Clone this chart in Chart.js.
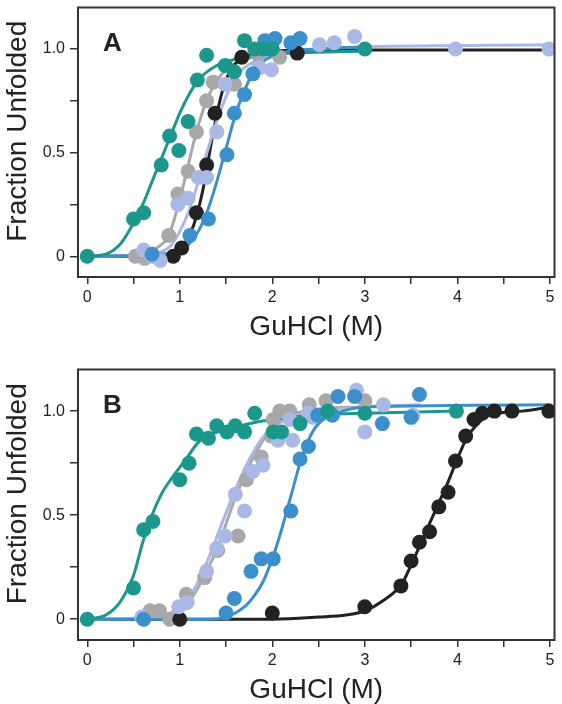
<!DOCTYPE html>
<html>
<head>
<meta charset="utf-8">
<script src="https://cdn.jsdelivr.net/npm/chart.js@4.4.1/dist/chart.umd.min.js"></script>
<style>
  html, body { margin: 0; padding: 0; background: #fff; }
  #wrap { position: relative; width: 562px; height: 704px; }
  canvas { position: absolute; left: 0; }
</style>
</head>
<body>
<div id="wrap">
  <canvas id="chartA" width="562" height="352" style="top:0"></canvas>
  <canvas id="chartB" width="562" height="342" style="top:362px"></canvas>
</div>
<script>
// axis ticks
const xTickVals = [0, 0.5, 1, 1.5, 2, 2.5, 3, 3.5, 4, 4.5, 5];
const xTickLabels = ['0', '', '1', '', '2', '', '3', '', '4', '', '5'];
const yTickVals = [0, 0.25, 0.5, 0.75, 1.0];
const yTickLabels = ['0', '', '0.5', '', '1.0'];
const xTitle = 'GuHCl (M)';
const yTitle = 'Fraction Unfolded';

// panel A: measured points [GuHCl, fraction]
const aGray = [[0.52, 0], [0.62, -0.01], [0.72, 0], [0.88, 0.10], [0.98, 0.30], [1.09, 0.41], [1.18, 0.60], [1.29, 0.75], [1.36, 0.84], [1.59, 0.83], [1.85, 0.97], [2.08, 0.96]];
const aBlack = [[0.93, 0], [1.02, 0.04], [1.18, 0.21], [1.29, 0.44], [1.38, 0.69], [1.67, 0.96], [2.27, 0.98]];
const aLav = [[0.61, 0.03], [0.70, 0], [0.79, -0.02], [0.98, 0.25], [1.09, 0.28], [1.20, 0.38], [1.29, 0.38], [1.40, 0.60], [1.49, 0.83], [1.86, 0.91], [1.99, 0.90], [2.51, 1.02], [2.67, 1.03], [2.89, 1.06], [3.98, 1.0], [4.99, 1.0]];
const aBlue = [[0.70, 0.01], [1.11, 0.10], [1.31, 0.18], [1.51, 0.49], [1.59, 0.69], [1.70, 0.78], [1.79, 0.88], [1.92, 1.04], [2.03, 1.05], [2.20, 1.03], [2.30, 1.05]];
const aTeal = [[0, 0], [0.50, 0.18], [0.61, 0.21], [0.80, 0.44], [0.89, 0.58], [0.99, 0.51], [1.09, 0.65], [1.19, 0.85], [1.29, 0.97], [1.49, 0.92], [1.59, 0.89], [1.70, 1.04], [1.81, 1.0], [1.90, 1.0], [2.00, 1.0], [3.0, 1.0]];

// panel A: fitted curves
const aGrayFit = [[0, 0], [0.6, 0.01], [0.75, 0.04], [0.88, 0.10], [0.98, 0.24], [1.07, 0.40], [1.18, 0.60], [1.29, 0.75], [1.42, 0.86], [1.6, 0.93], [1.8, 0.96], [2.2, 0.98], [3.0, 0.99]];
const aBlackFit = [[0, 0], [0.8, 0], [0.95, 0.02], [1.05, 0.06], [1.15, 0.15], [1.25, 0.32], [1.35, 0.57], [1.45, 0.78], [1.55, 0.90], [1.7, 0.96], [1.9, 0.985], [2.5, 0.995], [5.0, 0.995]];
const aLavFit = [[0, 0], [0.7, 0.01], [0.9, 0.05], [1.0, 0.12], [1.1, 0.22], [1.2, 0.36], [1.3, 0.51], [1.4, 0.65], [1.5, 0.77], [1.6, 0.86], [1.7, 0.91], [2.0, 0.97], [2.5, 1.0], [3.0, 1.01], [5.0, 1.02]];
const aBlueFit = [[0, 0], [0.8, 0.01], [1.0, 0.03], [1.1, 0.06], [1.2, 0.12], [1.3, 0.22], [1.4, 0.36], [1.5, 0.52], [1.6, 0.68], [1.7, 0.80], [1.8, 0.89], [1.9, 0.94], [2.1, 0.98], [2.5, 1.0], [3.0, 1.01]];
const aTealFit = [[0, 0], [0.2, 0.01], [0.36, 0.06], [0.5, 0.16], [0.61, 0.26], [0.7, 0.36], [0.8, 0.47], [0.9, 0.58], [1.0, 0.69], [1.1, 0.78], [1.2, 0.85], [1.4, 0.92], [1.6, 0.95], [1.86, 0.97], [2.2, 0.98], [3.0, 0.99]];

// panel B: measured points
const bGray = [[0.68, 0.04], [0.78, 0.04], [0.89, 0], [1.07, 0.12], [1.27, 0.20], [1.41, 0.33], [1.63, 0.40], [1.72, 0.67], [1.88, 0.78], [1.99, 0.88], [2.01, 0.96], [2.08, 1.0], [2.19, 1.0], [2.40, 1.03], [2.58, 1.05], [3.0, 1.05]];
const bBlack = [[1.0, 0], [2.0, 0.03], [3.0, 0.06], [3.39, 0.16], [3.50, 0.28], [3.59, 0.37], [3.70, 0.42], [3.80, 0.54], [3.90, 0.61], [3.98, 0.76], [4.09, 0.88], [4.18, 0.96], [4.27, 0.99], [4.40, 1.0], [4.59, 1.0], [4.99, 1.0]];
const bLav = [[0.59, 0.01], [0.99, 0.06], [1.08, 0.08], [1.29, 0.23], [1.40, 0.34], [1.49, 0.40], [1.60, 0.60], [1.70, 0.52], [1.79, 0.71], [1.90, 0.74], [2.06, 0.86], [2.19, 0.96], [2.22, 0.86], [2.39, 0.99], [2.44, 0.97], [2.91, 1.10], [3.0, 0.90], [3.20, 1.03], [3.52, 0.98]];
const bBlue = [[0.61, 0], [1.50, 0.03], [1.59, 0.10], [1.77, 0.23], [1.88, 0.29], [2.01, 0.29], [2.20, 0.52], [2.30, 0.77], [2.39, 0.83], [2.49, 0.98], [2.65, 0.98], [2.71, 1.07], [2.89, 1.07], [3.19, 0.94], [3.50, 0.97], [3.59, 1.08]];
const bTeal = [[0, 0], [0.50, 0.15], [0.61, 0.43], [0.71, 0.47], [1.0, 0.67], [1.10, 0.75], [1.18, 0.89], [1.31, 0.87], [1.40, 0.93], [1.51, 0.90], [1.60, 0.93], [1.70, 0.90], [1.81, 0.99], [2.01, 0.90], [2.10, 0.90], [2.30, 0.94], [2.60, 1.0], [3.0, 0.99], [3.99, 1.0]];

// panel B: fitted curves
const bGrayFit = [[0, 0], [0.6, 0], [0.78, 0.01], [1.0, 0.05], [1.14, 0.11], [1.29, 0.23], [1.43, 0.37], [1.58, 0.56], [1.72, 0.71], [1.86, 0.83], [2.0, 0.92], [2.2, 0.98], [2.5, 1.01], [3.0, 1.02]];
const bBlackFit = [[0, 0], [2.0, 0], [2.5, 0.01], [2.8, 0.02], [3.0, 0.04], [3.2, 0.09], [3.4, 0.17], [3.5, 0.26], [3.6, 0.36], [3.7, 0.46], [3.8, 0.56], [3.9, 0.66], [4.0, 0.77], [4.1, 0.87], [4.2, 0.93], [4.3, 0.97], [4.45, 0.99], [4.7, 1.0], [5.0, 1.02]];
const bLavFit = [[0, 0], [0.7, 0.01], [0.9, 0.03], [1.0, 0.06], [1.14, 0.13], [1.3, 0.28], [1.43, 0.43], [1.58, 0.60], [1.72, 0.74], [1.86, 0.85], [2.0, 0.92], [2.3, 0.98], [3.0, 1.02], [3.6, 1.03]];
const bBlueFit = [[0, 0], [1.3, 0], [1.5, 0.01], [1.7, 0.06], [1.8, 0.11], [1.9, 0.18], [2.0, 0.29], [2.1, 0.43], [2.2, 0.59], [2.3, 0.75], [2.4, 0.87], [2.5, 0.94], [2.7, 0.99], [3.0, 1.02], [5.0, 1.03]];
const bTealFit = [[0, 0], [0.2, 0.02], [0.35, 0.08], [0.5, 0.21], [0.6, 0.37], [0.7, 0.5], [0.8, 0.6], [0.9, 0.67], [1.0, 0.73], [1.1, 0.79], [1.2, 0.85], [1.35, 0.89], [1.5, 0.91], [1.86, 0.95], [2.2, 0.97], [2.6, 0.985], [3.0, 0.99], [4.0, 1.0]];

const colors = { gray: '#a8a8a8', black: '#222222', lav: '#a9b8e5', blue: '#3b90cb', teal: '#1c978c' };
const FONT = '"Liberation Sans", Arial, Helvetica, sans-serif';

function toXY(arr) {
  return arr.map(p => ({ x: p[0], y: p[1] }));
}

function buildDatasets(pts, fits) {
  const keys = ['gray', 'black', 'lav', 'blue', 'teal'];
  const sets = [];
  keys.forEach((k, i) => {
    sets.push({
      data: toXY(fits[k]),
      showLine: true,
      borderColor: colors[k],
      borderWidth: 3,
      pointRadius: 0,
      cubicInterpolationMode: 'monotone',
      order: 20 - i
    });
  });
  keys.forEach((k, i) => {
    sets.push({
      data: toXY(pts[k]),
      showLine: false,
      backgroundColor: colors[k],
      borderWidth: 0,
      pointRadius: 7.5,
      order: 10 - i
    });
  });
  return sets;
}

// frame, panel letter and axis titles
const decorPlugin = {
  id: 'decor',
  afterDraw(chart, args, opts) {
    const { ctx, chartArea: a } = chart;
    ctx.save();
    ctx.strokeStyle = '#333';
    ctx.lineWidth = 2;
    ctx.strokeRect(a.left, a.top, a.right - a.left, a.bottom - a.top);

    ctx.fillStyle = '#222';
    ctx.font = 'bold 26px ' + FONT;
    ctx.textAlign = 'left';
    ctx.textBaseline = 'alphabetic';
    ctx.fillText(opts.letter, a.left + 25, a.top + 43);

    ctx.font = '28px ' + FONT;
    ctx.textAlign = 'center';
    ctx.fillText(xTitle, (a.left + a.right) / 2, a.bottom + 58);

    ctx.translate(26, (a.top + a.bottom) / 2 - 11);
    ctx.rotate(-Math.PI / 2);
    ctx.fillText(yTitle, 0, 0);
    ctx.restore();
  }
};

function makeChart(id, letter, pts, fits, padTop, xHeight) {
  return new Chart(document.getElementById(id), {
    type: 'scatter',
    data: { datasets: buildDatasets(pts, fits) },
    options: {
      responsive: false,
      devicePixelRatio: 1,
      animation: false,
      events: [],
      layout: { padding: { top: padTop, right: 6, left: 0, bottom: 0 } },
      plugins: { legend: { display: false }, tooltip: { enabled: false }, decor: { letter } },
      scales: {
        x: {
          type: 'linear', min: -0.1, max: 5.05,
          afterBuildTicks: s => { s.ticks = xTickVals.map(v => ({ value: v })); },
          afterFit: s => { s.height = xHeight; s.paddingLeft = 0; s.paddingRight = 0; },
          ticks: { callback: (v, i) => xTickLabels[i], font: { size: 16, family: FONT }, color: '#222', padding: 4, maxRotation: 0, autoSkip: false },
          grid: { drawOnChartArea: false, tickLength: 7, color: '#333', lineWidth: 1.5 },
          border: { display: false }
        },
        y: {
          type: 'linear', min: -0.1, max: 1.2,
          afterBuildTicks: s => { s.ticks = yTickVals.map(v => ({ value: v })); },
          afterFit: s => { s.width = 78; s.paddingTop = 0; s.paddingBottom = 0; },
          ticks: { callback: (v, i) => yTickLabels[i], font: { size: 16, family: FONT }, color: '#222', padding: 5, autoSkip: false },
          grid: { drawOnChartArea: false, tickLength: 8, color: '#333', lineWidth: 1.5 },
          border: { display: false }
        }
      }
    },
    plugins: [decorPlugin]
  });
}

makeChart('chartA', 'A',
  { gray: aGray, black: aBlack, lav: aLav, blue: aBlue, teal: aTeal },
  { gray: aGrayFit, black: aBlackFit, lav: aLavFit, blue: aBlueFit, teal: aTealFit },
  4, 75);
makeChart('chartB', 'B',
  { gray: bGray, black: bBlack, lav: bLav, blue: bBlue, teal: bTeal },
  { gray: bGrayFit, black: bBlackFit, lav: bLavFit, blue: bBlueFit, teal: bTealFit },
  3, 64);
</script>
</body>
</html>
